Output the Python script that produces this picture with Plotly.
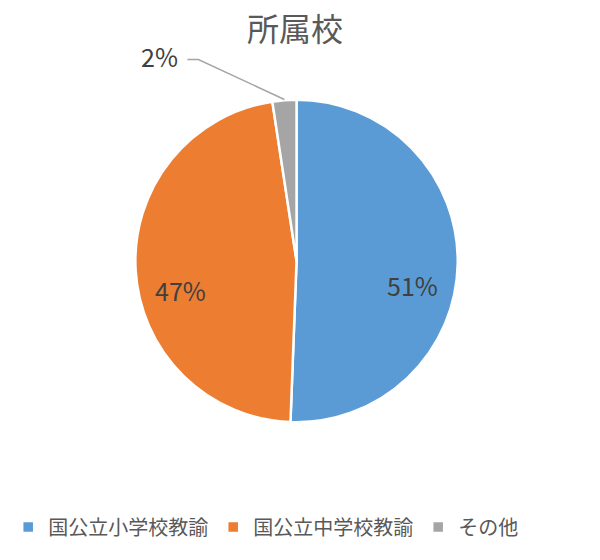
import math
import plotly.graph_objects as go

categories = ["国公立小学校教諭", "国公立中学校教諭", "その他"]
values = [50.6, 47.0, 2.4]
colors = ["#5B9BD5", "#ED7D31", "#A5A5A5"]

FONT = "Noto Sans CJK JP"
OFF = 8  # page body margin
W, H = 600 - OFF, 560 - OFF
PIE_L, PIE_R, PIE_T, PIE_B = 133 - OFF, 457 - OFF, 99 - OFF, 423 - OFF
T, B = PIE_T, H - PIE_B
PIE_X = [PIE_L / W, PIE_R / W]

fig = go.Figure(go.Pie(
    labels=categories,
    values=values,
    sort=False,
    direction="clockwise",
    rotation=0,
    marker=dict(colors=colors, line=dict(color="white", width=2.5)),
    textinfo="none",
    hoverinfo="label+percent",
    domain=dict(x=PIE_X, y=[0, 1]),
))

total = sum(values)
ph = H - T - B
r = (PIE_R - PIE_L) / 2
cx = (PIE_X[0] + PIE_X[1]) / 2


def to_paper(angle_deg, frac):
    a = math.radians(angle_deg)
    return cx + frac * r * math.sin(a) / W, 0.5 + frac * r * math.cos(a) / ph


cum = 0.0
for i, v in enumerate(values):
    mid = (cum + v / 2) / total * 360
    cum += v
    pct = f"{round(v / total * 100)}%"
    if i < 2:
        x, y = to_paper(mid, 0.72)
        fig.add_annotation(x=x, y=y, xref="paper", yref="paper", text=pct,
                           showarrow=False, yshift=-22,
                           xanchor="center", yanchor="middle",
                           font=dict(family=FONT, size=25, color="#404040"))
    else:
        x, y = to_paper(mid, 1.0)
        fig.add_shape(type="path", xref="paper", yref="paper",
                      xsizemode="pixel", ysizemode="pixel",
                      xanchor=x, yanchor=y,
                      path="M 0 0 L -86 40 L -97 40",
                      line=dict(color="#A5A5A5", width=1.5))
        fig.add_annotation(x=x, y=y, xref="paper", yref="paper", text=pct,
                           showarrow=False, xanchor="right", yanchor="middle",
                           xshift=-104, yshift=43,
                           font=dict(family=FONT, size=25, color="#404040"))

fig.update_layout(
    width=W, height=H,
    margin=dict(l=0, r=0, t=T, b=B),
    paper_bgcolor="white",
    plot_bgcolor="white",
    title=dict(text="所属校", x=(295 - OFF) / W, xanchor="center",
               y=1 - 11 / H, yanchor="top",
               font=dict(family=FONT, size=32, color="#595959")),
    legend=dict(orientation="h", x=(264 - OFF) / W, xanchor="center",
                y=-((527 - OFF) - PIE_B) / ph, yanchor="middle",
                font=dict(family=FONT, size=20, color="#595959")),
    showlegend=True,
)

fig.write_html("out.html")
